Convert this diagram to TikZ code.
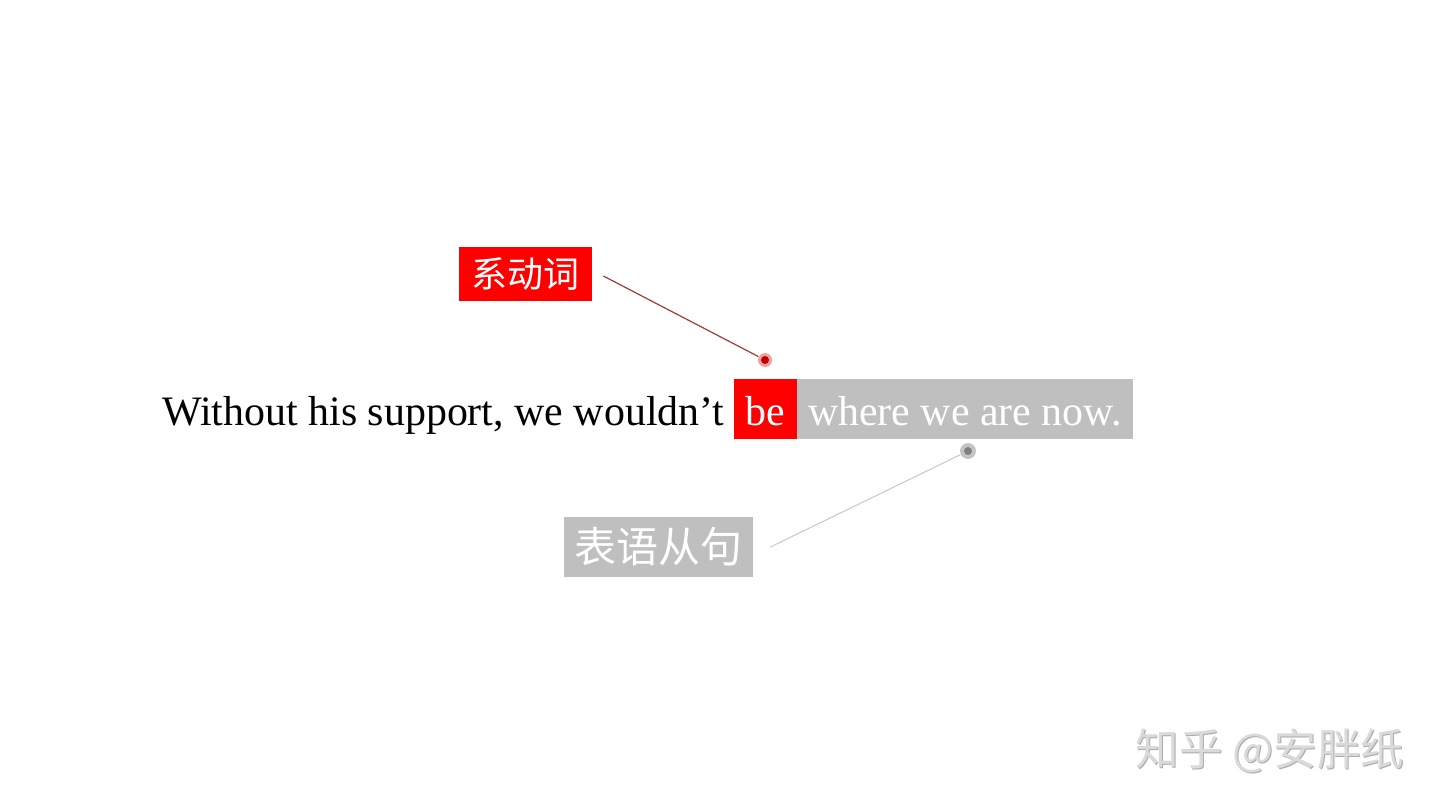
\documentclass[tikz,border=0pt]{standalone}
\usepackage{fontspec}
\setmainfont{Liberation Serif}
\newfontfamily\cjk{Noto Sans CJK SC}
\definecolor{hlred}{HTML}{FF0000}
\definecolor{hlgray}{HTML}{BFBFBF}
\definecolor{linered}{HTML}{A33A3A}
\definecolor{linegray}{HTML}{C8C8C8}
\definecolor{dotred}{HTML}{C00000}
\definecolor{dotredlt}{HTML}{F0A0A0}
\definecolor{dotgray}{HTML}{808080}
\definecolor{dotgraylt}{HTML}{C4C4C4}
\definecolor{wmark}{HTML}{DADADA}
\definecolor{wshadow}{HTML}{ABABAB}
\tikzset{
  px/.style={x=0.5pt,y=-0.5pt},
  sentence/.style={inner sep=0pt,anchor=base west,font=\fontsize{20.95pt}{24pt}\selectfont},
  wordbox/.style={inner sep=0pt,text=white,text height=23pt,text depth=7pt,
     font=\fontsize{20.95pt}{24pt}\selectfont},
  tagbox/.style={inner sep=0pt,text=white},
  outerdot/.style={circle,inner sep=0pt,minimum size=7pt},
  innerdot/.style={circle,inner sep=0pt,minimum size=4pt},
}
\begin{document}
\begin{tikzpicture}[px]
\path[use as bounding box,fill=white] (0,0) rectangle (1440,810);
% sentence
\node[sentence] (s1) at (162,425) {Without his support, we wouldn’t};
\node[wordbox,fill=hlred,minimum width=31.5pt] (be) at (765.5,409) {be};
\node[wordbox,fill=hlgray,minimum width=168pt] (rest) at (965,409) {where we are now.};
% tag 1
\node[tagbox,fill=hlred,minimum width=66.5pt,minimum height=27pt,font=\cjk\fontsize{18pt}{20pt}\selectfont] (t1) at (525.5,274) {系动词};
\node[outerdot,fill=dotredlt] (d1) at (765,360) {};
\node[innerdot,fill=dotred] (d1i) at (765,360) {};
\draw[linered,line width=0.6pt] ([xshift=5.5pt,yshift=-1pt]t1.east) -- (d1);
% tag 2
\node[tagbox,fill=hlgray,minimum width=94.5pt,minimum height=30pt,font=\cjk\fontsize{21pt}{24pt}\selectfont] (t2) at (658.5,547) {表语从句};
\node[outerdot,fill=dotgraylt,minimum size=8pt] (d2) at (968,451) {};
\node[innerdot,fill=dotgray] (d2i) at (968,451) {};
\draw[linegray,line width=0.5pt] ([xshift=8.5pt]t2.east) -- (d2);
% watermark
\node[inner sep=0pt,text=wshadow,font=\cjk\fontsize{21.8pt}{24pt}\selectfont] (wms) at (1271,752) {知乎 @安胖纸};
\node[inner sep=0pt,text=wmark,font=\cjk\fontsize{21.8pt}{24pt}\selectfont] (wm) at (1270,751) {知乎 @安胖纸};
\end{tikzpicture}
\end{document}
